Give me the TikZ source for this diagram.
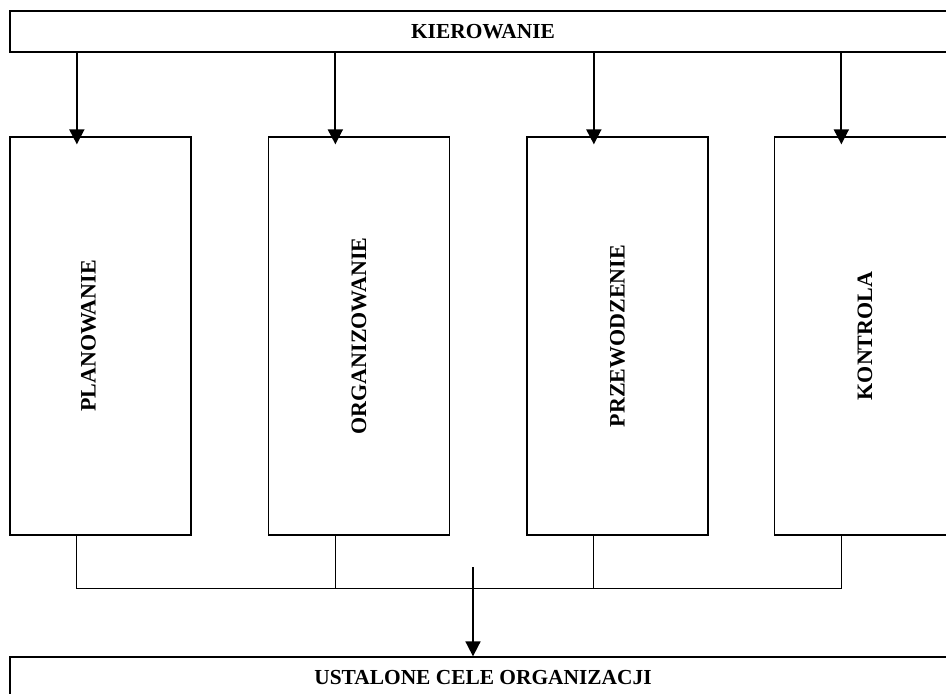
\documentclass[tikz,border=0pt]{standalone}
\usepackage{fontspec}
\setmainfont{Liberation Serif}
\usetikzlibrary{arrows.meta,positioning}

\begin{document}
\begin{tikzpicture}[x=1pt, y=-1pt,
    wide/.style={rectangle, draw, line width=1.3pt, minimum width=946pt, minimum height=41pt, inner sep=0pt, font=\fontsize{21.4}{25}\selectfont\bfseries},
    func/.style={rectangle, draw, line width=1.3pt, minimum width=181pt, minimum height=398pt, inner sep=0pt},
    vlabel/.style={rotate=90, inner sep=0pt, font=\fontsize{22}{25}\selectfont\bfseries},
    arrow/.style={-{Triangle[width=15pt,length=15pt]}, line width=1.8pt},
    link/.style={line width=1pt}
]
\useasboundingbox (0,0) rectangle (946,694);
\clip (0,0) rectangle (946,694);

% Top and bottom bars
\node[wide] (top) at (483,31.5) {KIEROWANIE};
\node[wide, minimum height=42pt] (goal) at (483,678) {USTALONE CELE ORGANIZACJI};

% Functions
\node[func] (plan) at (100.5,336) {};
\node[func] (org) at (359,336) {};
\node[func] (lead) at (617.5,336) {};
\node[func] (ctrl) at (865,336) {};

\node[vlabel] at ([xshift=-12pt]plan.center) {PLANOWANIE};
\node[vlabel] at (org.center) {ORGANIZOWANIE};
\node[vlabel] at (lead.center) {PRZEWODZENIE};
\node[vlabel] at (ctrl.center) {KONTROLA};

% Connections
\foreach \b in {plan,org,lead,ctrl} {
  \coordinate (\b-in) at ([xshift=67.5pt]\b.north west);
  \coordinate (\b-out) at ([xshift=67.5pt]\b.south west);
  \draw[arrow, shorten >=-8pt] (top.south -| \b-in) -- (\b-in);
}

\coordinate (bus) at (0,588);
\draw[link] (plan-out) -- (plan-out |- bus) -- (ctrl-out |- bus) -- (ctrl-out);
\draw[link] (org-out) -- (org-out |- bus);
\draw[link] (lead-out) -- (lead-out |- bus);

\coordinate (drop) at (473,567);
\draw[arrow] (drop) -- (drop |- goal.north);

\end{tikzpicture}
\end{document}
